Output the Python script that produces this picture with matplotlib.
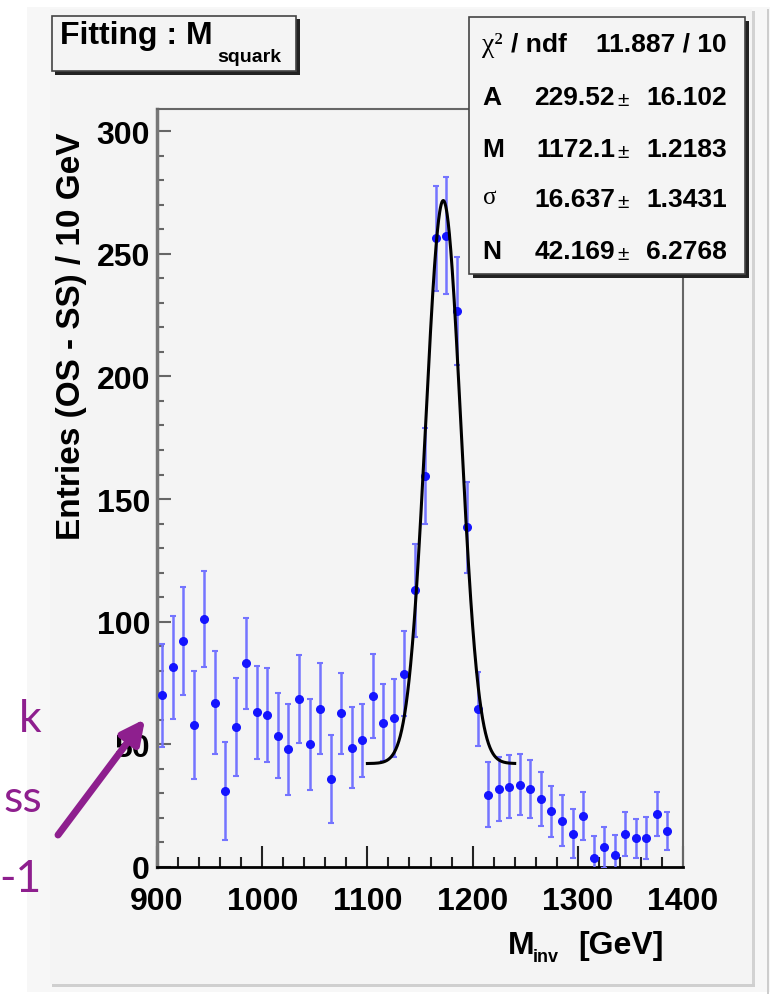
import numpy as np
import matplotlib.pyplot as plt
from matplotlib.patches import Rectangle

plt.rcParams['font.family'] = ['Liberation Sans', 'DejaVu Sans']

# OS - SS invariant mass histogram, 10 GeV bins (bin centres)
mass = [905, 915, 925, 935, 945, 955, 965, 975, 985, 995,
        1005, 1015, 1025, 1035, 1045, 1055, 1065, 1075, 1085, 1095,
        1105, 1115, 1125, 1135, 1145, 1155, 1165, 1175, 1185, 1195,
        1205, 1215, 1225, 1235, 1245, 1255, 1265, 1275, 1285, 1295,
        1305, 1315, 1325, 1335, 1345, 1355, 1365, 1375, 1385]
entries = [70, 81.5, 92, 58, 101, 67, 31, 57, 83, 63,
           62, 53.6, 48, 68.6, 50, 64.5, 36, 62.7, 48.6, 51.6,
           69.7, 58.8, 60.8, 78.8, 112.8, 159.5, 256.3, 257.4, 226.7, 138.4,
           64.5, 29.4, 31.8, 32.8, 33.6, 31.8, 27.8, 22.7, 18.9, 13.5,
           20.9, 3.7, 8, 4.9, 13.5, 11.7, 11.7, 21.6, 14.8]
errors = [21, 21, 22, 22, 19.5, 21, 20, 20, 18.5, 19,
          19, 17.5, 18.5, 18, 18.5, 18.5, 18, 16.5, 16.5, 15,
          17, 15.7, 16, 17.4, 19, 19.5, 21.5, 24, 22, 18.7,
          15, 13.2, 13, 13, 12.5, 12, 11, 10.5, 10.5, 10,
          9.7, 9, 8.5, 8, 9, 8, 8.5, 9, 7.8]

# gaussian + constant fit result
fit_A, fit_M, fit_sigma, fit_N = 229.52, 1172.1, 16.637, 42.169
fit_lo, fit_hi = 1100, 1240
stat_names = ['A', 'M', 'σ', 'N']
stat_values = ['229.52', '1172.1', '16.637', '42.169']
stat_errors = ['16.102', '1.2183', '1.3431', '6.2768']
chi2_text = '11.887 / 10'

W, H = 782, 995
fig = plt.figure(figsize=(W / 100, H / 100), dpi=100, facecolor='white')


def fx(x):
    return x / W


def fy(y):
    return 1 - y / H


def box(x0, y0, x1, y1, **kw):
    r = Rectangle((fx(x0), fy(y1)), fx(x1) - fx(x0), fy(y0) - fy(y1),
                  transform=fig.transFigure, **kw)
    fig.add_artist(r)
    return r


# canvas background
box(27, 8, 770, 993, facecolor='#f7f7f7', edgecolor='none', zorder=-20)
box(50, 10, 752, 985, facecolor='#f4f4f4', edgecolor='none', zorder=-19)
box(752, 12, 755, 987, facecolor='#d2d2d2', edgecolor='none', zorder=-18)
box(52, 985, 755, 988, facecolor='#cfcfcf', edgecolor='none', zorder=-18)
box(767, 10, 769, 995, facecolor='#cdcdcd', edgecolor='none', zorder=-18)

ax = fig.add_axes([fx(157), fy(868), fx(683) - fx(157), fy(110) - fy(868)])
ax.set_facecolor('#f4f4f4')

ax.errorbar(mass, entries, yerr=errors, fmt='o', color='#1414ff', ms=5.5,
            ecolor='#7474ff', elinewidth=1.8, capsize=2.5, capthick=1.5,
            zorder=3, clip_on=True)

xf = np.linspace(fit_lo, fit_hi, 400)
yf = fit_N + fit_A * np.exp(-0.5 * ((xf - fit_M) / fit_sigma) ** 2)
ax.plot(xf, yf, color='black', lw=2.2, zorder=4)

ax.set_xlim(900, 1400)
ax.set_ylim(0, 309)
ax.set_xticks(np.arange(900, 1401, 100))
ax.set_xticks(np.arange(900, 1401, 20), minor=True)
ax.set_yticks(np.arange(0, 301, 50))
ax.set_yticks(np.arange(0, 301, 10), minor=True)

for s in ['top', 'right']:
    ax.spines[s].set_color('#666666')
    ax.spines[s].set_linewidth(1.5)
ax.spines['left'].set_color('#777777')
ax.spines['left'].set_linewidth(2.5)
ax.spines['bottom'].set_color('black')
ax.spines['bottom'].set_linewidth(2)

ax.tick_params(axis='x', which='major', direction='in', length=15, width=1.5,
               color='#222222', pad=14, labelsize=23)
ax.tick_params(axis='x', which='minor', direction='in', length=7, width=1.5,
               color='#222222')
ax.tick_params(axis='y', which='major', direction='in', length=10, width=1.5,
               color='#666666', pad=5, labelsize=23)
ax.tick_params(axis='y', which='minor', direction='in', length=5, width=1.5,
               color='#666666')
for lab in ax.get_xticklabels() + ax.get_yticklabels():
    lab.set_fontweight('bold')

# axis titles
fig.text(fx(72), fy(336), 'Entries (OS - SS) / 10 GeV', rotation=90,
         ha='center', va='center', fontsize=24, fontweight='bold')
fig.text(fx(508), fy(946), 'M', ha='left', va='center', fontsize=23,
         fontweight='bold')
fig.text(fx(533), fy(958), 'inv', ha='left', va='center', fontsize=13,
         fontweight='bold')
fig.text(fx(664), fy(946), '[GeV]', ha='right', va='center', fontsize=23,
         fontweight='bold')

# title box
box(55, 20, 300, 76, facecolor='#222222', edgecolor='none', zorder=5)
box(52, 17, 296, 72, facecolor='#f4f4f4', edgecolor='#444444', lw=1.2,
    zorder=6)
fig.text(fx(60), fy(36), 'Fitting : M', ha='left', va='center', fontsize=23,
         fontweight='bold', zorder=7)
fig.text(fx(217), fy(58), 'squark', ha='left', va='center', fontsize=14,
         fontweight='bold', zorder=7)

# stats box
box(473, 22, 749, 279, facecolor='#222222', edgecolor='none', zorder=5)
box(469, 18, 745, 275, facecolor='#f4f4f4', edgecolor='#444444', lw=1.2,
    zorder=6)
fig.text(fx(482), fy(46), 'χ²', ha='left', va='center', fontsize=20,
         family=['Liberation Serif', 'DejaVu Serif'], zorder=7)
fig.text(fx(511), fy(45), '/ ndf', ha='left', va='center', fontsize=19,
         fontweight='bold', zorder=7)
fig.text(fx(727), fy(45), chi2_text, ha='right', va='center', fontsize=19,
         fontweight='bold', zorder=7)
row_y = [98, 150, 200, 252]
for name, val, err, yy in zip(stat_names, stat_values, stat_errors, row_y):
    if name == 'σ':
        fig.text(fx(483), fy(yy - 2), name, ha='left', va='center',
                 fontsize=18, family=['Liberation Serif', 'DejaVu Serif'],
                 zorder=7)
    else:
        fig.text(fx(482), fy(yy), name, ha='left', va='center', fontsize=19,
                 fontweight='bold', zorder=7)
    fig.text(fx(615), fy(yy), val, ha='right', va='center', fontsize=19,
             fontweight='bold', zorder=7)
    fig.text(fx(623), fy(yy + 2), '±', ha='center', va='center', fontsize=15,
             zorder=7)
    fig.text(fx(727), fy(yy), err, ha='right', va='center', fontsize=19,
             fontweight='bold', zorder=7)

# purple slide annotation at the left edge
purple = '#8e1f8e'
for txt, yy in [('k', 720), ('ss', 800), ('-1', 880)]:
    fig.text(fx(42), fy(yy), txt, ha='right', va='center', fontsize=32,
             color=purple, family=['Lato', 'DejaVu Sans'])
ax.annotate('', xy=(145, H - 720), xycoords='figure pixels',
            xytext=(58, H - 836), textcoords='figure pixels',
            arrowprops=dict(arrowstyle='-|>', color=purple, lw=5,
                            mutation_scale=35, shrinkA=0, shrinkB=0),
            annotation_clip=False)

fig.savefig('out.png', dpi=100, facecolor='white')
